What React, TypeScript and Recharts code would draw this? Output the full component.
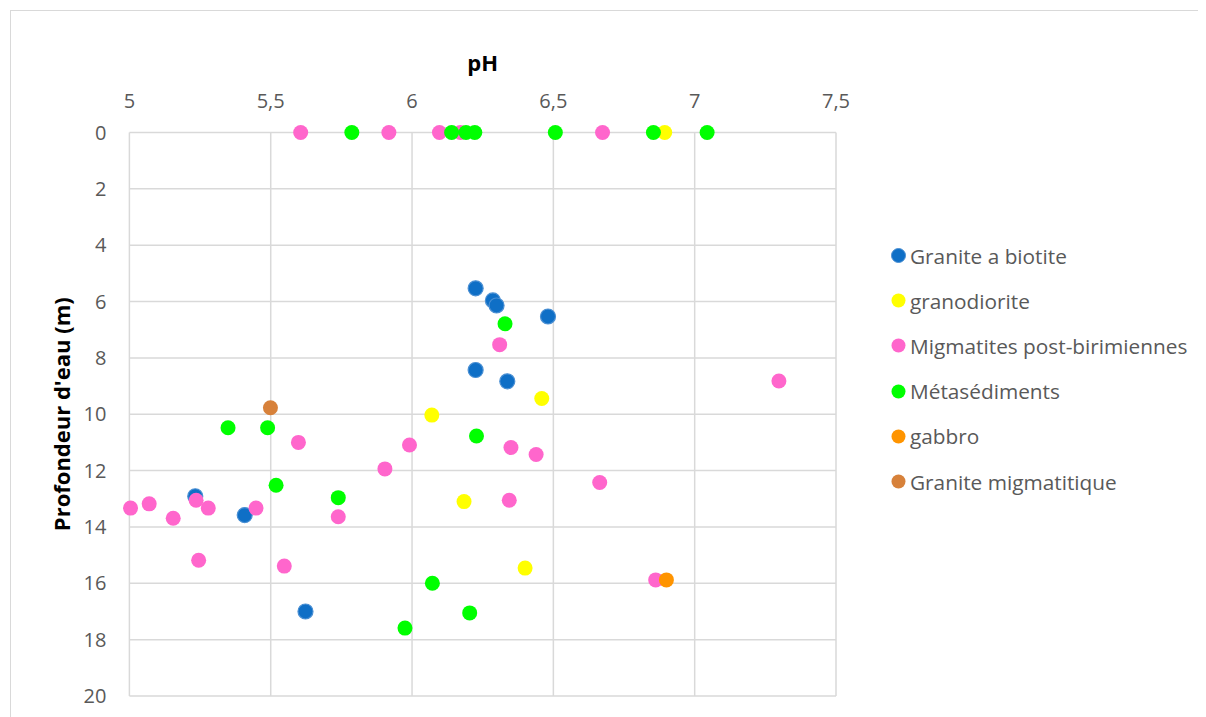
import React from "react"
import {
  ScatterChart,
  Scatter,
  XAxis,
  YAxis,
  CartesianGrid,
  Legend,
} from "recharts"

// pH and depth (m) per rock type
const graniteBiotitePH = [6.225, 6.286, 6.299, 6.481, 6.225, 6.337, 5.233, 5.408, 5.623]
const graniteBiotiteDepth = [5.53, 5.96, 6.14, 6.53, 8.43, 8.83, 12.91, 13.58, 17.0]

const granodioritePH = [6.894, 6.459, 6.07, 6.184, 6.4]
const granodioriteDepth = [0, 9.44, 10.03, 13.1, 15.46]

const migmatitesPH = [
  5.606, 5.918, 6.097, 6.171, 6.674, 6.31, 7.298, 5.598, 5.991, 6.35, 6.439, 5.904,
  6.664, 6.344, 5.739, 5.236, 5.004, 5.07, 5.155, 5.279, 5.448, 5.245, 5.548, 6.862,
]
const migmatitesDepth = [
  0, 0, 0, 0, 0, 7.53, 8.82, 11.0, 11.09, 11.18, 11.43, 11.94,
  12.42, 13.05, 13.64, 13.05, 13.33, 13.18, 13.69, 13.33, 13.33, 15.18, 15.39, 15.88,
]

const metasedimentsPH = [
  5.787, 6.14, 6.191, 6.222, 6.507, 6.854, 7.044, 6.329, 5.349, 5.489, 6.228, 5.519,
  5.739, 6.072, 6.204, 5.975,
]
const metasedimentsDepth = [
  0, 0, 0, 0, 0, 0, 0, 6.79, 10.48, 10.48, 10.77, 12.52, 12.96, 16.0, 17.05, 17.59,
]

const gabbroPH = [6.9]
const gabbroDepth = [15.88]

const graniteMigPH = [5.499]
const graniteMigDepth = [9.77]

const phTicks = [5, 5.5, 6, 6.5, 7, 7.5]
const depthTicks = [0, 2, 4, 6, 8, 10, 12, 14, 16, 18, 20]

const toPoints = (ph: number[], depth: number[]) =>
  ph.map((v, i) => ({ ph: v, depth: depth[i] }))

const series = [
  { name: "Granite a biotite", data: toPoints(graniteBiotitePH, graniteBiotiteDepth), fill: "#0F6FC6", stroke: "#4A8FD3" },
  { name: "granodiorite", data: toPoints(granodioritePH, granodioriteDepth), fill: "#FFFF00" },
  { name: "Migmatites post-birimiennes", data: toPoints(migmatitesPH, migmatitesDepth), fill: "#FF66CC" },
  { name: "Métasédiments", data: toPoints(metasedimentsPH, metasedimentsDepth), fill: "#00FF00" },
  { name: "gabbro", data: toPoints(gabbroPH, gabbroDepth), fill: "#FF9400" },
  { name: "Granite migmatitique", data: toPoints(graniteMigPH, graniteMigDepth), fill: "#D7813A" },
]

const font = "'Open Sans', sans-serif"
const tickStyle = { fontSize: 20, fill: "#595959", fontFamily: font }

const Dot = (props: any) => {
  const { cx, cy, fill, stroke } = props
  return (
    <circle
      cx={cx}
      cy={cy}
      r={7.5}
      fill={fill}
      stroke={stroke || "none"}
      strokeWidth={stroke ? 1.2 : 0}
    />
  )
}

// keep the series order (Recharts sorts legend payload by name otherwise)
const LegendList = () => (
  <ul style={{ listStyle: "none", margin: 0, padding: 0 }}>
    {series.map((s) => (
      <li
        key={s.name}
        style={{
          height: 45.2,
          display: "flex",
          alignItems: "center",
          fontFamily: font,
          fontSize: 20.8,
          color: "#595959",
          whiteSpace: "nowrap",
        }}
      >
        <svg width={15} height={15} style={{ marginRight: 4 }}>
          <circle
            cx={7.5}
            cy={7.5}
            r={7}
            fill={s.fill}
            stroke={s.stroke || "none"}
            strokeWidth={s.stroke ? 1 : 0}
          />
        </svg>
        {s.name}
      </li>
    ))}
  </ul>
)

export default function App() {
  return (
    <div
      style={{
        marginLeft: 2,
        marginTop: 2,
        width: 1196,
        height: 706,
        borderTop: "1px solid #d9d9d9",
        borderLeft: "1px solid #d9d9d9",
        overflow: "hidden",
      }}
    >
      <ScatterChart
        width={1195}
        height={705}
        margin={{ top: 20, right: 60, bottom: 20, left: 30 }}
      >
        <CartesianGrid stroke="#d9d9d9" strokeWidth={1.5} />
        <XAxis
          type="number"
          dataKey="ph"
          orientation="top"
          domain={[5, 7.5]}
          ticks={phTicks}
          tickFormatter={(v: number) => String(v).replace(".", ",")}
          axisLine={false}
          tickLine={false}
          tickSize={6}
          tickMargin={19}
          height={101.5}
          tick={tickStyle}
          label={{
            value: "pH",
            position: "insideTop",
            offset: 24,
            style: { fontSize: 22, fontWeight: 700, fill: "#000", fontFamily: font },
          }}
        />
        <YAxis
          type="number"
          dataKey="depth"
          reversed
          domain={[0, 20]}
          ticks={depthTicks}
          axisLine={false}
          tickLine={false}
          tickSize={6}
          tickMargin={17}
          width={88.4}
          tick={tickStyle}
          label={{
            value: "Profondeur d'eau (m)",
            angle: -90,
            position: "insideLeft",
            offset: 21,
            style: { fontSize: 22, fontWeight: 700, fill: "#000", fontFamily: font, textAnchor: "middle" },
          }}
        />
        <Legend
          layout="vertical"
          align="right"
          verticalAlign="top"
          content={<LegendList />}
          wrapperStyle={{ top: 222, left: 880, width: 310 }}
        />
        {series.map((s) => (
          <Scatter
            key={s.name}
            name={s.name}
            data={s.data}
            fill={s.fill}
            stroke={s.stroke}
            shape={<Dot />}
            isAnimationActive={false}
          />
        ))}
      </ScatterChart>
    </div>
  )
}
